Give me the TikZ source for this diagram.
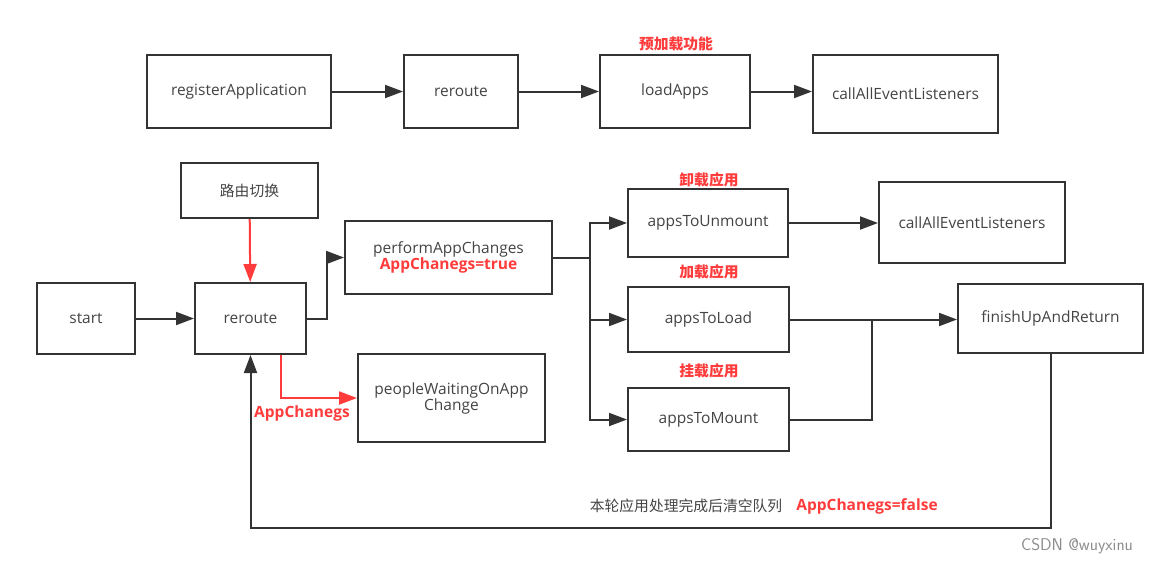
\documentclass[tikz,border=0pt]{standalone}
\usepackage{fontspec}
\setmainfont{Open Sans}
\newfontfamily\cjk{Noto Sans CJK SC}
\usetikzlibrary{arrows.meta}
\definecolor{linegray}{HTML}{333333}
\definecolor{txtgray}{HTML}{444444}
\definecolor{hotred}{HTML}{FF3B3B}
\tikzstyle{flow}=[x=1pt, y=-1pt, font=\fontsize{15.5}{19}\selectfont, text=txtgray]
\tikzstyle{box}=[rectangle, draw=linegray, line width=2pt, fill=white, inner sep=0pt, align=center]
\tikzstyle{edge}=[draw=linegray, line width=2pt, -{Triangle[length=18pt, width=13pt]}]
\tikzstyle{line}=[draw=linegray, line width=2pt]
\tikzstyle{redge}=[edge, draw=hotred, fill=hotred]
\tikzstyle{tag}=[text=hotred, font=\fontsize{14.8}{17}\selectfont\cjk\bfseries]
\tikzstyle{flag}=[text=hotred, font=\fontsize{15.5}{18}\selectfont\bfseries]

\begin{document}
\begin{tikzpicture}[flow]
	\useasboundingbox (0,0) rectangle (1162,566);
	% first run
	\draw (239,91.5) node[box, minimum width=184, minimum height=73] (regApp) {registerApplication};
	\draw (461,91.5) node[box, minimum width=114, minimum height=73] (rerouteA) {reroute};
	\draw (675,91.5) node[box, minimum width=150, minimum height=73] (loadApps) {loadApps};
	\draw (905.5,94) node[box, minimum width=185, minimum height=78] (callA) {callAllEventListeners};
	\draw (676,44) node[tag] (preload) {预加载功能};
	
	\draw[edge] (regApp) -- (rerouteA);
	\draw[edge] (rerouteA) -- (loadApps);
	\draw[edge] (loadApps.east) -- (loadApps.east -| callA.west);
	%
	\draw (249.5,190.5) node[box, minimum width=137, minimum height=55, font=\fontsize{14.8}{17}\selectfont\cjk] (switch) {路由切换};
	\draw (86,318.5) node[box, minimum width=98, minimum height=71] (start) {start};
	\draw (250.5,318.5) node[box, minimum width=111, minimum height=71] (rerouteB) {reroute};
	\draw (448.5,257.5) node[box, minimum width=207, minimum height=73] (perform) {performAppChanges\\[-3pt]\textcolor{hotred}{\bfseries AppChanegs=true}};
	\draw (451.5,398) node[box, minimum width=187, minimum height=88] (waiting) {peopleWaitingOnApp\\[-3pt]Change};
	\draw (708,223) node[box, minimum width=160, minimum height=68] (unmount) {appsToUnmount};
	\draw (972,222.5) node[box, minimum width=186, minimum height=81] (callB) {callAllEventListeners};
	\draw (708.5,319.5) node[box, minimum width=161, minimum height=65] (load) {appsToLoad};
	\draw (1050.5,318.5) node[box, minimum width=185, minimum height=69] (finish) {finishUpAndReturn};
	\draw (708.5,419.5) node[box, minimum width=161, minimum height=63] (mount) {appsToMount};
	
	\draw (709,180) node[tag] (tagUn) {卸载应用};
	\draw (709,272) node[tag] (tagLoad) {加载应用};
	\draw (709,371) node[tag] (tagMount) {挂载应用};
	%
	\coordinate (bus) at (590,257.5);
	\coordinate (join) at (872,319.5);
	\coordinate (back) at (650,528);
	
	\draw[edge] (start) -- (rerouteB);
	\draw[redge] (switch) -- (rerouteB);
	\draw[edge] (rerouteB.east) -- ++(20,0) |- (perform.west);
	\draw[redge, fill=none] ([xshift=30pt]rerouteB.south) |- (waiting.west);
	\draw (302,413) node[flag] (chg) {AppChanegs};
	\draw[line] (perform.east) -- (bus);
	\draw[edge] (bus) |- (unmount.west);
	\draw[edge] (bus) |- (load.west);
	\draw[edge] (bus) |- (mount.west);
	\draw[edge] (unmount.east) -- (unmount.east -| callB.west);
	\draw[edge] (load.east) -- (load.east -| finish.west);
	\draw[line] (mount.east) -| (join);
	\draw[edge] (finish.south) |- (back) -| (rerouteB.south);
	\draw (686,506) node[text=txtgray, font=\fontsize{14.8}{17}\selectfont\cjk] (clear) {本轮应用处理完成后清空队列};
	\draw (867,506) node[flag] (done) {AppChanegs=false};
	\draw (1077,546) node[text=black!45, font=\fontsize{17}{19}\selectfont\sffamily] (mark) {CSDN @wuyxinu};
\end{tikzpicture}
\end{document}
